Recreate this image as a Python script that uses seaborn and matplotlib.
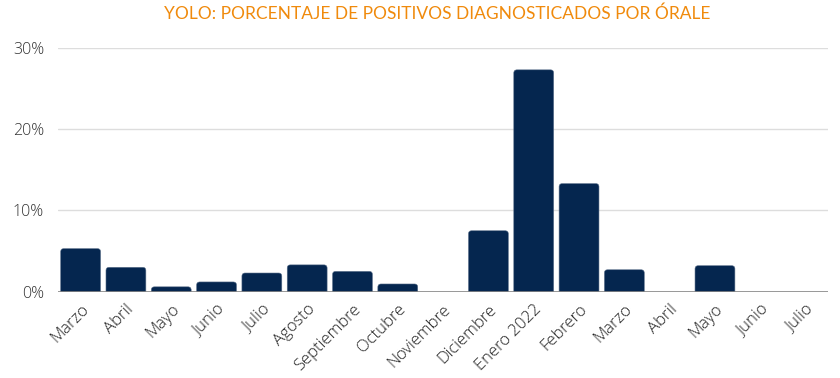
import pandas as pd
import matplotlib.pyplot as plt
import matplotlib.transforms as mtransforms
from matplotlib.patches import FancyBboxPatch
import seaborn as sns
from matplotlib.ticker import PercentFormatter

# Datos
meses = ["Marzo", "Abril", "Mayo", "Junio", "Julio", "Agosto", "Septiembre",
         "Octubre", "Noviembre", "Diciembre", "Enero 2022", "Febrero", "Marzo",
         "Abril", "Mayo", "Junio", "Julio"]
positivos = [5.3, 3.0, 0.6, 1.2, 2.3, 3.3, 2.5, 0.95, 0.0, 7.5, 27.3, 13.3,
             2.7, 0.0, 3.2, 0.0, 0.0]

df = pd.DataFrame({
    "id": [str(i) for i in range(len(meses))],
    "pct": positivos,
})

sns.set_style("white")
plt.rcParams['font.family'] = ['Open Sans', 'DejaVu Sans']

fig = plt.figure(figsize=(8.4, 3.78), dpi=100)
ax = fig.add_axes([0.069, 0.2283, 0.917, 0.645])

sns.barplot(data=df, x="id", y="pct", color="#05264f", width=0.88,
            saturation=1, ax=ax, zorder=3)

# angoli arrotondati in alto (la base resta sotto lo zero, tagliata)
for p in list(ax.patches):
    x, w, h = p.get_x(), p.get_width(), p.get_height()
    p.remove()
    if h <= 0:
        continue
    ax.add_patch(FancyBboxPatch((x, -1), w, h + 1,
                                boxstyle="round,pad=0,rounding_size=0.07",
                                mutation_aspect=5.6, facecolor="#05264f",
                                edgecolor="#5a6f8a", linewidth=0.4, zorder=3))

ax.set_ylim(0, 30)
ax.set_yticks([0, 10, 20, 30])
ax.yaxis.set_major_formatter(PercentFormatter(decimals=0))
ax.grid(axis="y", color="#dddddd", linewidth=1, zorder=0)
ax.axhline(0, color="#888888", linewidth=1.2, zorder=4)

ax.set_xticks(range(len(meses)))
ax.set_xticklabels(meses, rotation=45, ha="right", rotation_mode="anchor",
                   fontsize=12, color="#222222", fontweight="light")
# sposto un po' le etichette verso destra come nell'originale
offset = mtransforms.ScaledTranslation(12 / 100, 0, fig.dpi_scale_trans)
for lab in ax.get_xticklabels():
    lab.set_transform(lab.get_transform() + offset)
ax.tick_params(axis="y", labelsize=11.5, labelcolor="#333333", pad=10, length=0)
ax.tick_params(axis="x", length=0, pad=7)
for lab in ax.get_yticklabels():
    lab.set_fontweight("light")
ax.set_xlabel("")
ax.set_ylabel("")
sns.despine(ax=ax, left=True, bottom=True)

fig.text(0.52, 0.963, "YOLO: PORCENTAJE DE POSITIVOS DIAGNOSTICADOS POR ÓRALE",
         ha="center", va="center", color="#f08a0c", fontsize=12.5,
         family=["Lato", "DejaVu Sans"])

plt.savefig("out.png", dpi=100)
